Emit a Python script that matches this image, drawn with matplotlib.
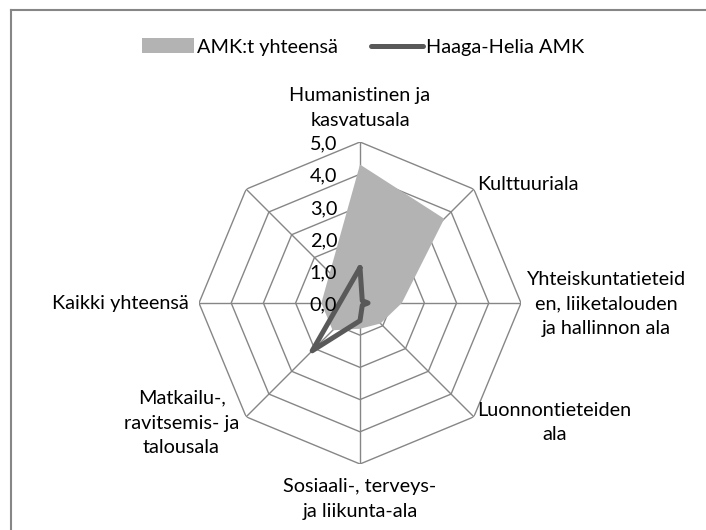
import numpy as np
import matplotlib
matplotlib.use('Agg')
import matplotlib.pyplot as plt
from matplotlib.patches import Patch
from matplotlib.lines import Line2D

plt.rcParams['font.family'] = ['Lato', 'DejaVu Sans']
koko = 14.3

# Kategoriat (myötäpäivään ylhäältä alkaen), viimeinen akseli ilman nimeä
kategoriat = ['Humanistinen ja\nkasvatusala', 'Kulttuuriala',
              'Yhteiskuntatieteid\nen, liiketalouden\nja hallinnon ala',
              'Luonnontieteiden\nala', 'Sosiaali-, terveys-\nja liikunta-ala',
              'Matkailu-,\nravitsemis- ja\ntalousala', 'Kaikki yhteensä', '']
amk_yhteensa = [4.3, 3.7, 1.3, 0.9, 0.8, 1.2, 1.2, np.nan]
haaga_helia = [1.1, 0.1, 0.25, 0.1, 0.55, 2.1, np.nan, np.nan]
asteikko = [0, 1, 2, 3, 4, 5]
asteikko_tekstit = ['0,0', '1,0', '2,0', '3,0', '4,0', '5,0']

n = len(kategoriat)
kulmat = np.arange(n) * 2 * np.pi / n

fig = plt.figure(figsize=(7.06, 5.30), dpi=100)
ax = fig.add_axes([199 / 706, 66 / 530, 322 / 706, 322 / 530], projection='polar')
ax.set_theta_zero_location('N')
ax.set_theta_direction(-1)
ax.set_ylim(0, 5)
ax.grid(False)
ax.spines['polar'].set_visible(False)
ax.set_xticks([])
ax.set_yticks([])
ax.patch.set_visible(False)

harmaa = '#868686'
# kahdeksankulmaiset apuviivat ja säteet
for r in asteikko[1:]:
    ax.plot(np.append(kulmat, kulmat[0]), [r] * (n + 1), color=harmaa, lw=1.0, zorder=1)
for k in kulmat:
    ax.plot([k, k], [0, 5], color=harmaa, lw=1.0, zorder=1)

# AMK:t yhteensä (täytetty), puuttuvat arvot ohitetaan
amk = np.array(amk_yhteensa)
ok = ~np.isnan(amk)
ax.fill(kulmat[ok], amk[ok], color='#b3b3b3', lw=0, zorder=2)

# Haaga-Helia AMK (viiva)
hh = np.array(haaga_helia)
ok = ~np.isnan(hh)
ax.plot(np.append(kulmat[ok], kulmat[ok][0]), np.append(hh[ok], hh[ok][0]),
        color='#595959', lw=3.6, solid_joinstyle='round', solid_capstyle='round', zorder=3)

# asteikon tekstit
for v, t in zip(asteikko, asteikko_tekstit):
    ax.annotate(t, xy=(0, v), xytext=(-16.5, -1.5), textcoords='offset points',
                ha='right', va='center', fontsize=koko, annotation_clip=False)

# kategorioiden nimet
sijainnit = [(0.0, 6.05, 'center'), (44.5, 5.18, 'left'), (90.3, 5.19, 'left'),
             (135.6, 5.2, 'left'), (180.0, 6.09, 'center'), (225.2, 5.29, 'right'),
             (270.0, 5.31, 'right')]
for nimi, (kulma, r, ha) in zip(kategoriat, sijainnit):
    ax.text(np.deg2rad(kulma), r, nimi, ha=ha, va='center', multialignment='center',
            fontsize=koko, linespacing=1.55, clip_on=False)

# selite
kahvat = [Patch(facecolor='#b3b3b3', edgecolor='none'),
          Line2D([0], [0], color='#595959', lw=3.6, solid_capstyle='round')]
fig.legend(kahvat, ['AMK:t yhteensä', 'Haaga-Helia AMK'], loc='center',
           bbox_to_anchor=(363 / 706, 1 - 47 / 530), ncol=2, frameon=False,
           fontsize=koko, handlelength=2.6, handleheight=0.75, handletextpad=0.15,
           columnspacing=1.7)

# kaavion reunus (vain ylä- ja vasen reuna näkyvät)
fig.add_artist(Line2D([11 / 706, 1], [1 - 10 / 530, 1 - 10 / 530], color=harmaa, lw=1.5))
fig.add_artist(Line2D([11 / 706, 11 / 706], [0, 1 - 10 / 530], color=harmaa, lw=1.5))

fig.savefig('out.png', dpi=100)
